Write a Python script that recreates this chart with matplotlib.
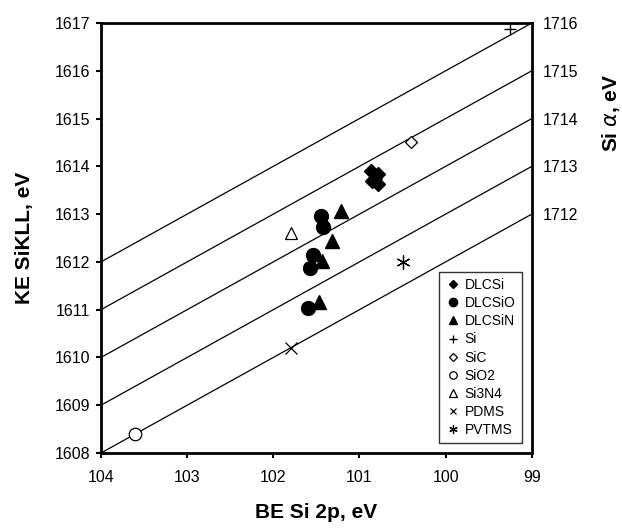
import matplotlib.pyplot as plt
import numpy as np

plt.rcParams['font.family'] = ['Liberation Sans', 'DejaVu Sans']

# Auger parameter reference lines: KE + BE = const
alpha_lines = [1712, 1713, 1714, 1715, 1716]

# data series (BE Si 2p, KE SiKLL)
dlcsi_be = [100.87, 100.78, 100.82, 100.86, 100.78]
dlcsi_ke = [1613.90, 1613.85, 1613.75, 1613.70, 1613.62]
dlcsio_be = [101.45, 101.42, 101.54, 101.57, 101.60]
dlcsio_ke = [1612.95, 1612.74, 1612.15, 1611.87, 1611.03]
dlcsin_be = [101.21, 101.32, 101.44, 101.47]
dlcsin_ke = [1613.06, 1612.43, 1612.01, 1611.17]
si_be, si_ke = [99.25], [1616.88]
sic_be, sic_ke = [100.40], [1614.50]
sio2_be, sio2_ke = [103.60], [1608.40]
si3n4_be, si3n4_ke = [101.80], [1612.60]
pdms_be, pdms_ke = [101.80], [1610.20]
pvtms_be, pvtms_ke = [100.50], [1612.00]

fig = plt.figure(figsize=(6.22, 5.29), dpi=100)
ax = fig.add_axes([0.1624, 0.1437, 0.6926, 0.8128])

be = np.array([104, 99])
for a in alpha_lines:
    ax.plot(be, a - be, color='black', lw=0.9, zorder=1)

ax.plot(dlcsi_be, dlcsi_ke, 'D', color='black', ms=7.5, ls='none', label='DLCSi')
ax.plot(dlcsio_be, dlcsio_ke, 'o', color='black', ms=10, ls='none', label='DLCSiO')
ax.plot(dlcsin_be, dlcsin_ke, '^', color='black', ms=9.5, ls='none', label='DLCSiN')
ax.plot(si_be, si_ke, '+', color='black', ms=9, mew=1, ls='none', label='Si')
ax.plot(sic_be, sic_ke, 'D', mfc='white', mec='black', ms=6.5, mew=0.9, ls='none', label='SiC')
ax.plot(sio2_be, sio2_ke, 'o', mfc='white', mec='black', ms=9, mew=0.9, ls='none', label='SiO2')
ax.plot(si3n4_be, si3n4_ke, '^', mfc='white', mec='black', ms=8.5, mew=0.9, ls='none', label='Si3N4')
ax.plot(pdms_be, pdms_ke, 'x', color='black', ms=8, mew=0.9, ls='none', label='PDMS')
ax.plot(pvtms_be, pvtms_ke, marker=(6, 2, 0), color='black', ms=10, mew=0.9, ls='none', label='PVTMS')

ax.set_xlim(104, 99)
ax.set_ylim(1608, 1617)
ax.set_xticks([104, 103, 102, 101, 100, 99])
ax.set_yticks(range(1608, 1618))
ax.tick_params(direction='out', length=3.5, width=1.5, labelsize=11.5)
ax.tick_params(axis='x', pad=9)
ax.tick_params(axis='y', pad=4)
for s in ax.spines.values():
    s.set_linewidth(2)

ax.set_xlabel('BE Si 2p, eV', fontsize=15, fontweight='bold', labelpad=13)
ax.set_ylabel('KE SiKLL, eV', fontsize=15, fontweight='bold', labelpad=15)

ax2 = ax.twinx()
ax2.set_ylim(1707, 1716)
ax2.set_yticks([1712, 1713, 1714, 1715, 1716])
ax2.tick_params(length=0, labelsize=11.5, pad=8)
for s in ax2.spines.values():
    s.set_visible(False)
ax2.set_ylabel(r'Si $\alpha$, eV', fontsize=15, fontweight='bold')
ax2.yaxis.set_label_coords(1.158, 0.79)

leg = ax.legend(loc='lower right', bbox_to_anchor=(0.993, 0.006), fontsize=10,
                markerscale=0.6, handlelength=1.1, handletextpad=0.3,
                labelspacing=0.3, borderpad=0.45, frameon=True, fancybox=False)
leg.get_frame().set_edgecolor('black')
leg.get_frame().set_linewidth(1)

fig.savefig('out.png', dpi=100)
plt.close(fig)
